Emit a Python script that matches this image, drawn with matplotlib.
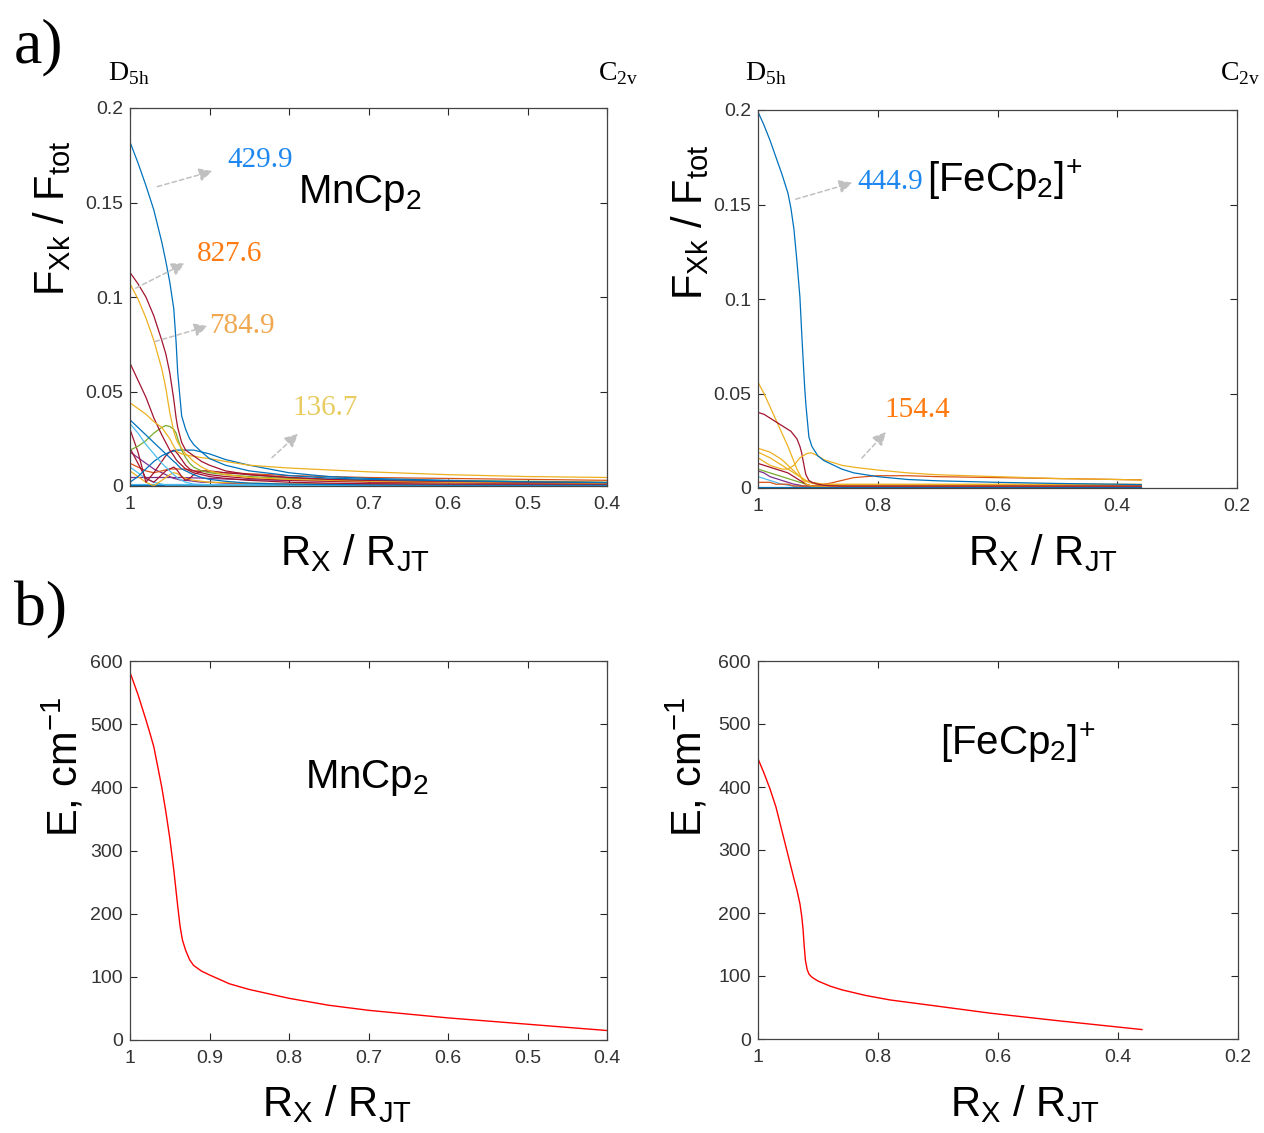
import matplotlib
matplotlib.use("Agg")
import matplotlib.pyplot as plt

plt.rcParams["font.family"] = ["Liberation Sans", "DejaVu Sans"]
plt.rcParams["mathtext.fontset"] = "custom"
plt.rcParams["mathtext.rm"] = "Liberation Serif"
plt.rcParams["mathtext.sf"] = "Liberation Sans"

# MATLAB default line colours
BLUE, ORANGE, YELLOW, PURPLE = "#0072BD", "#D95319", "#EDB120", "#7E2F8E"
GREEN, CYAN, RED = "#77AC30", "#4DBEEE", "#A2142F"

# ---- panel a), MnCp2: F_Xk / F_tot vs R_X / R_JT ----
mn_x = [1.0, 0.99, 0.98, 0.97, 0.96, 0.955, 0.95, 0.945, 0.942, 0.94, 0.935, 0.93,
        0.925, 0.92, 0.91, 0.90, 0.88, 0.85, 0.80, 0.75, 0.70, 0.60, 0.50, 0.40]
mn_429 = [0.182, 0.171, 0.159, 0.146, 0.129, 0.119, 0.108, 0.094, 0.076, 0.060, 0.037, 0.030,
          0.025, 0.022, 0.018, 0.0145, 0.011, 0.008, 0.0055, 0.0042, 0.0035, 0.0028, 0.0022, 0.0018]
mn_827 = [0.113, 0.107, 0.100, 0.090, 0.077, 0.070, 0.060, 0.046, 0.036, 0.031, 0.023, 0.019,
          0.0175, 0.016, 0.013, 0.011, 0.008, 0.006, 0.0045, 0.0035, 0.003, 0.0025, 0.002, 0.0018]
mn_784 = [0.107, 0.099, 0.089, 0.077, 0.062, 0.052, 0.039, 0.029, 0.025, 0.023, 0.020, 0.017,
          0.015, 0.013, 0.010, 0.008, 0.006, 0.0045, 0.0035, 0.003, 0.0025, 0.002, 0.0018, 0.0015]
mn_136 = [0.044, 0.041, 0.038, 0.034, 0.031, 0.028, 0.025, 0.021, 0.019, 0.018, 0.017, 0.0165,
          0.016, 0.0158, 0.015, 0.0145, 0.013, 0.011, 0.0095, 0.0085, 0.0075, 0.006, 0.005, 0.0045]
mn_red065 = [0.065, 0.056, 0.047, 0.036, 0.027, 0.023, 0.019, 0.016, 0.014, 0.013, 0.011, 0.009,
             0.008, 0.007, 0.006, 0.005, 0.004, 0.003, 0.002, 0.0015, 0.0012, 0.001, 0.001, 0.001]
mn_blue035 = [0.035, 0.031, 0.027, 0.023, 0.019, 0.017, 0.015, 0.013, 0.012, 0.011, 0.009, 0.008,
              0.007, 0.006, 0.0045, 0.0035, 0.0025, 0.0015, 0.001, 0.0008, 0.0006, 0.0005, 0.0005, 0.0005]
mn_cyan033 = [0.033, 0.028, 0.022, 0.017, 0.012, 0.010, 0.008, 0.006, 0.005, 0.004, 0.003, 0.002,
              0.0015, 0.001, 0.0008, 0.0006, 0.0005, 0.0005, 0.0005, 0.0005, 0.0005, 0.0005, 0.0005, 0.0005]
mn_green = [0.019, 0.021, 0.024, 0.028, 0.031, 0.032, 0.0315, 0.030, 0.028, 0.025, 0.019, 0.015,
            0.012, 0.010, 0.008, 0.007, 0.006, 0.005, 0.004, 0.0035, 0.003, 0.0028, 0.0025, 0.002]
mn_blue_hump = [0.002, 0.005, 0.009, 0.013, 0.016, 0.017, 0.018, 0.0185, 0.019, 0.019, 0.019, 0.019,
                0.019, 0.019, 0.018, 0.017, 0.014, 0.011, 0.007, 0.005, 0.004, 0.003, 0.0022, 0.0018]
mn_purple_flat = [0.0045, 0.0045, 0.0045, 0.0045, 0.0045, 0.0045, 0.0045, 0.0045, 0.0045, 0.0045, 0.0045, 0.0044,
                  0.0044, 0.0043, 0.0042, 0.004, 0.0037, 0.0033, 0.003, 0.0027, 0.0025, 0.0022, 0.002, 0.0018]
mn_purple018 = [0.018, 0.015, 0.012, 0.009, 0.007, 0.006, 0.005, 0.004, 0.0038, 0.0035, 0.003, 0.003,
                0.0028, 0.0025, 0.002, 0.002, 0.0015, 0.0012, 0.001, 0.001, 0.001, 0.0008, 0.0008, 0.0008]
mn_red_v1 = [0.030, 0.018, 0.002, 0.007, 0.013, 0.016, 0.018, 0.019, 0.018, 0.017, 0.014, 0.011,
             0.009, 0.008, 0.007, 0.006, 0.005, 0.004, 0.003, 0.0025, 0.002, 0.0018, 0.0015, 0.0012]
mn_red_v2 = [0.020, 0.012, 0.004, 0.002, 0.006, 0.008, 0.009, 0.010, 0.009, 0.008, 0.005, 0.003,
             0.004, 0.006, 0.008, 0.008, 0.007, 0.006, 0.0045, 0.0035, 0.003, 0.0025, 0.002, 0.0015]
mn_orange = [0.012, 0.010, 0.008, 0.007, 0.008, 0.0085, 0.009, 0.009, 0.009, 0.009, 0.009, 0.009,
             0.0085, 0.008, 0.008, 0.0075, 0.007, 0.0065, 0.0055, 0.005, 0.0045, 0.004, 0.0035, 0.003]
mn_cyan010 = [0.010, 0.007, 0.004, 0.002, 0.001, 0.0005, 0.0005, 0.0005, 0.0005, 0.0005, 0.0005, 0.0005,
              0.0005, 0.0005, 0.0005, 0.0005, 0.0005, 0.0005, 0.0005, 0.0005, 0.0005, 0.0005, 0.0005, 0.0005]
mn_yellow_v = [0.008, 0.005, 0.002, 0.0, 0.003, 0.0045, 0.006, 0.007, 0.0068, 0.0065, 0.005, 0.004,
               0.0035, 0.003, 0.0025, 0.002, 0.0018, 0.0015, 0.0012, 0.001, 0.001, 0.001, 0.001, 0.001]
mn_blue_floor = [0.0005, 0.0005, 0.0005, 0.0005, 0.0005, 0.0005, 0.0005, 0.0005, 0.0005, 0.0005, 0.0005, 0.0005,
                 0.0005, 0.0005, 0.0005, 0.0005, 0.0005, 0.0005, 0.0005, 0.0005, 0.0005, 0.0005, 0.0005, 0.0005]
mn_cyan_floor = [0.0012, 0.0012, 0.0012, 0.0012, 0.0012, 0.0012, 0.0012, 0.0012, 0.0012, 0.0012, 0.0012, 0.0012,
                 0.0012, 0.0012, 0.0012, 0.0012, 0.0012, 0.0012, 0.0012, 0.0012, 0.0012, 0.0012, 0.0012, 0.0012]

# ---- panel a), [FeCp2]+ ----
fe_x = [1.0, 0.99, 0.98, 0.97, 0.96, 0.95, 0.945, 0.94, 0.935, 0.93, 0.927, 0.925, 0.922, 0.92,
        0.915, 0.91, 0.90, 0.89, 0.88, 0.86, 0.84, 0.80, 0.75, 0.70, 0.60, 0.50, 0.40, 0.36]
fe_444 = [0.199, 0.192, 0.184, 0.175, 0.166, 0.156, 0.148, 0.137, 0.120, 0.101, 0.082, 0.070, 0.053, 0.044,
          0.027, 0.022, 0.017, 0.0145, 0.013, 0.010, 0.008, 0.006, 0.0045, 0.0038, 0.003, 0.0024, 0.002, 0.0018]
fe_154 = [0.016, 0.014, 0.012, 0.011, 0.010, 0.010, 0.011, 0.012, 0.014, 0.016, 0.0165, 0.017, 0.0175, 0.018,
          0.0185, 0.0185, 0.017, 0.015, 0.014, 0.012, 0.011, 0.0095, 0.008, 0.007, 0.006, 0.005, 0.0045, 0.0042]
fe_red_hump = [0.040, 0.039, 0.037, 0.035, 0.033, 0.031, 0.030, 0.028, 0.026, 0.022, 0.0185, 0.015, 0.010, 0.007,
               0.004, 0.003, 0.002, 0.0015, 0.0012, 0.001, 0.001, 0.001, 0.001, 0.001, 0.001, 0.001, 0.001, 0.001]
fe_yellow056 = [0.056, 0.050, 0.043, 0.036, 0.029, 0.022, 0.018, 0.014, 0.010, 0.007, 0.005, 0.004, 0.003, 0.002,
                0.0015, 0.001, 0.001, 0.001, 0.001, 0.001, 0.001, 0.001, 0.001, 0.001, 0.001, 0.001, 0.001, 0.001]
fe_yellow021 = [0.021, 0.020, 0.019, 0.017, 0.015, 0.012, 0.0105, 0.009, 0.0075, 0.006, 0.005, 0.0045, 0.004, 0.0035,
                0.003, 0.0025, 0.002, 0.0018, 0.0018, 0.0018, 0.0018, 0.0018, 0.0018, 0.0018, 0.0018, 0.0018, 0.0018, 0.0018]
fe_yellow019 = [0.019, 0.0175, 0.016, 0.014, 0.012, 0.010, 0.009, 0.008, 0.007, 0.006, 0.0055, 0.005, 0.0045, 0.004,
                0.0035, 0.003, 0.0025, 0.002, 0.002, 0.002, 0.002, 0.002, 0.002, 0.002, 0.002, 0.002, 0.002, 0.002]
fe_red013 = [0.013, 0.012, 0.011, 0.010, 0.009, 0.008, 0.007, 0.006, 0.005, 0.004, 0.0035, 0.003, 0.0025, 0.002,
             0.0015, 0.001, 0.001, 0.001, 0.001, 0.001, 0.001, 0.001, 0.001, 0.001, 0.001, 0.001, 0.001, 0.001]
fe_orange_tail = [0.003, 0.003, 0.003, 0.002, 0.002, 0.002, 0.0015, 0.001, 0.001, 0.001, 0.001, 0.001, 0.001, 0.001,
                  0.0011, 0.0012, 0.0015, 0.002, 0.0025, 0.004, 0.0055, 0.0065, 0.0065, 0.006, 0.0055, 0.005, 0.0045, 0.0043]
fe_green = [0.010, 0.009, 0.008, 0.007, 0.006, 0.005, 0.0045, 0.004, 0.0035, 0.003, 0.0028, 0.0025, 0.0022, 0.002,
            0.0015, 0.001, 0.001, 0.001, 0.001, 0.001, 0.001, 0.001, 0.001, 0.001, 0.001, 0.001, 0.001, 0.001]
fe_purple = [0.009, 0.008, 0.006, 0.005, 0.004, 0.003, 0.0025, 0.002, 0.0018, 0.0015, 0.0012, 0.001, 0.001, 0.001,
             0.001, 0.001, 0.0008, 0.0008, 0.0008, 0.0008, 0.0008, 0.0008, 0.0008, 0.0008, 0.0008, 0.0008, 0.0008, 0.0008]
fe_cyan = [0.006, 0.005, 0.004, 0.003, 0.002, 0.0015, 0.0012, 0.001, 0.001, 0.001, 0.001, 0.001, 0.001, 0.001,
           0.001, 0.001, 0.001, 0.001, 0.001, 0.001, 0.001, 0.001, 0.001, 0.001, 0.001, 0.001, 0.001, 0.001]
fe_blue_floor = [0.0005, 0.0005, 0.0005, 0.0005, 0.0005, 0.0005, 0.0005, 0.0005, 0.0005, 0.0005, 0.0005, 0.0005, 0.0005, 0.0005,
                 0.0005, 0.0005, 0.0005, 0.0005, 0.0005, 0.0005, 0.0005, 0.0005, 0.0005, 0.0005, 0.0005, 0.0005, 0.0005, 0.0005]

# ---- panel b): energy curves ----
mn_e_x = [1.0, 0.99, 0.98, 0.975, 0.97, 0.96, 0.955, 0.95, 0.945, 0.94, 0.937, 0.934, 0.93,
          0.925, 0.92, 0.91, 0.90, 0.875, 0.85, 0.80, 0.75, 0.70, 0.60, 0.50, 0.40]
mn_e = [582, 547, 507, 486, 464, 400, 362, 320, 270, 212, 180, 158, 142,
        127, 118, 109, 103, 89, 80, 66, 55, 47, 35, 25, 15]
fe_e_x = [1.0, 0.99, 0.98, 0.97, 0.96, 0.95, 0.94, 0.935, 0.93, 0.927, 0.925, 0.923, 0.921,
          0.918, 0.915, 0.91, 0.90, 0.88, 0.86, 0.82, 0.78, 0.70, 0.613, 0.50, 0.40, 0.36]
fe_e = [445, 422, 397, 368, 330, 292, 254, 236, 214, 194, 175, 148, 125,
        110, 103, 98, 92, 84, 78, 69, 62, 52, 41, 29, 19, 15]

mn_curves = [
    (mn_cyan_floor, CYAN), (mn_blue_floor, BLUE), (mn_purple_flat, PURPLE),
    (mn_purple018, PURPLE), (mn_cyan010, CYAN), (mn_yellow_v, YELLOW),
    (mn_orange, ORANGE), (mn_red_v2, RED), (mn_red_v1, RED), (mn_blue_hump, BLUE),
    (mn_green, GREEN), (mn_cyan033, CYAN), (mn_blue035, BLUE), (mn_red065, RED),
    (mn_136, YELLOW), (mn_784, YELLOW), (mn_827, RED), (mn_429, BLUE),
]
fe_curves = [
    (fe_blue_floor, BLUE), (fe_cyan, CYAN), (fe_purple, PURPLE), (fe_green, GREEN),
    (fe_orange_tail, ORANGE), (fe_red013, RED), (fe_yellow019, YELLOW),
    (fe_yellow021, YELLOW), (fe_yellow056, YELLOW), (fe_red_hump, RED),
    (fe_154, YELLOW), (fe_444, BLUE),
]

W, H = 1264, 1133
fig = plt.figure(figsize=(W / 100, H / 100), dpi=100)


def px_axes(left, top, right, bottom):
    return fig.add_axes([left / W, 1 - bottom / H, (right - left) / W, (bottom - top) / H])


def style(ax, xlim, xticks, xlabels, ylim, yticks, ylabels):
    ax.set_xlim(*xlim)
    ax.set_ylim(*ylim)
    ax.set_xticks(xticks, xlabels)
    ax.set_yticks(yticks, ylabels)
    ax.tick_params(direction="in", top=True, right=True, length=5, width=0.8,
                   labelsize=14, labelcolor="#333333", color="#262626")
    ax.tick_params(axis="x", pad=7)
    ax.tick_params(axis="y", pad=5)
    for s in ax.spines.values():
        s.set_color("#444444")
        s.set_linewidth(0.9)


def ftext(px, py, s, **kw):
    fig.text(px / W, 1 - py / H, s, **kw)


ax1 = px_axes(130, 108, 607, 486)
ax2 = px_axes(758, 110, 1237, 488)
ax3 = px_axes(130, 661, 607, 1040)
ax4 = px_axes(758, 661, 1238, 1039)

for vals, col in mn_curves:
    ax1.plot(mn_x, vals, color=col, lw=0.9)
for vals, col in fe_curves:
    ax2.plot(fe_x, vals, color=col, lw=0.9)
ax3.plot(mn_e_x, mn_e, color="red", lw=1.0)
ax4.plot(fe_e_x, fe_e, color="red", lw=1.0)

f_ticks = [0, 0.05, 0.1, 0.15, 0.2]
f_labels = ["0", "0.05", "0.1", "0.15", "0.2"]
e_ticks = [0, 100, 200, 300, 400, 500, 600]
mn_xt = [1, 0.9, 0.8, 0.7, 0.6, 0.5, 0.4]
mn_xl = ["1", "0.9", "0.8", "0.7", "0.6", "0.5", "0.4"]
fe_xt = [1, 0.8, 0.6, 0.4, 0.2]
fe_xl = ["1", "0.8", "0.6", "0.4", "0.2"]
style(ax1, (1, 0.4), mn_xt, mn_xl, (0, 0.2), f_ticks, f_labels)
style(ax2, (1, 0.2), fe_xt, fe_xl, (0, 0.2), f_ticks, f_labels)
style(ax3, (1, 0.4), mn_xt, mn_xl, (0, 600), e_ticks, [str(t) for t in e_ticks])
style(ax4, (1, 0.2), fe_xt, fe_xl, (0, 600), e_ticks, [str(t) for t in e_ticks])

# frequency annotations with dashed grey arrows
arrow = dict(arrowstyle="-|>", linestyle=(0, (3, 2)), color="#c0c0c0", lw=1.1, mutation_scale=20)
serif = "Liberation Serif"
notes1 = [("429.9", "#1E88F0", (0.969, 0.158), (0.893, 0.167), (0.877, 0.1725)),
          ("827.6", "#FF7A10", (0.996, 0.104), (0.928, 0.1185), (0.916, 0.1228)),
          ("784.9", "#F0A850", (0.972, 0.076), (0.899, 0.085), (0.901, 0.0847)),
          ("136.7", "#E8CC60", (0.824, 0.014), (0.786, 0.0286), (0.796, 0.0413))]
notes2 = [("444.9", "#1E88F0", (0.9415, 0.1524), (0.838, 0.1619), (0.8347, 0.1619)),
          ("154.4", "#FF7A10", (0.8296, 0.0148), (0.783, 0.0307), (0.788, 0.0413))]
for ax, notes in ((ax1, notes1), (ax2, notes2)):
    for label, col, tail, head, txt in notes:
        ax.annotate("", xy=head, xytext=tail, arrowprops=arrow)
        ax.text(txt[0], txt[1], label, color=col, fontsize=21, family=serif,
                ha="left", va="center")

ax1.text(0.789, 0.1497, r"MnCp$_\mathsf{2}$", fontsize=29, ha="left", va="baseline")
ax2.text(0.7177, 0.1566, r"[FeCp$_\mathsf{2}$]$^\mathsf{+}$", fontsize=29, ha="left", va="baseline")
ax3.text(0.78, 399, r"MnCp$_\mathsf{2}$", fontsize=29, ha="left", va="baseline")
ax4.text(0.697, 451, r"[FeCp$_\mathsf{2}$]$^\mathsf{+}$", fontsize=29, ha="left", va="baseline")

# axis titles
xlab = r"R$_\mathsf{X}$ / R$_\mathsf{JT}$"
flab = r"F$_\mathsf{Xk}$ / F$_\mathsf{tot}$"
elab = r"E, cm$^\mathsf{-1}$"
for px, py in ((355, 553), (1043, 553), (337, 1104), (1025, 1104)):
    ftext(px, py, xlab, fontsize=30, ha="center", va="center")
for px, py, s in ((52, 218, flab), (690, 222, flab), (64, 767, elab), (688, 767, elab)):
    ftext(px, py, s, fontsize=30, ha="center", va="center", rotation=90)

# symmetry labels and panel letters
for px in (108, 745):
    ftext(px, 80, r"D$_\mathrm{5h}$", fontsize=20, family=serif, ha="left", va="baseline")
for px in (638, 1260):
    ftext(px, 80, r"C$_\mathrm{2v}$", fontsize=20, family=serif, ha="right", va="baseline")
ftext(14, 62, "a)", fontsize=46, family=serif, ha="left", va="baseline")
ftext(14, 625, "b)", fontsize=46, family=serif, ha="left", va="baseline")

fig.savefig("out.png", dpi=100)
